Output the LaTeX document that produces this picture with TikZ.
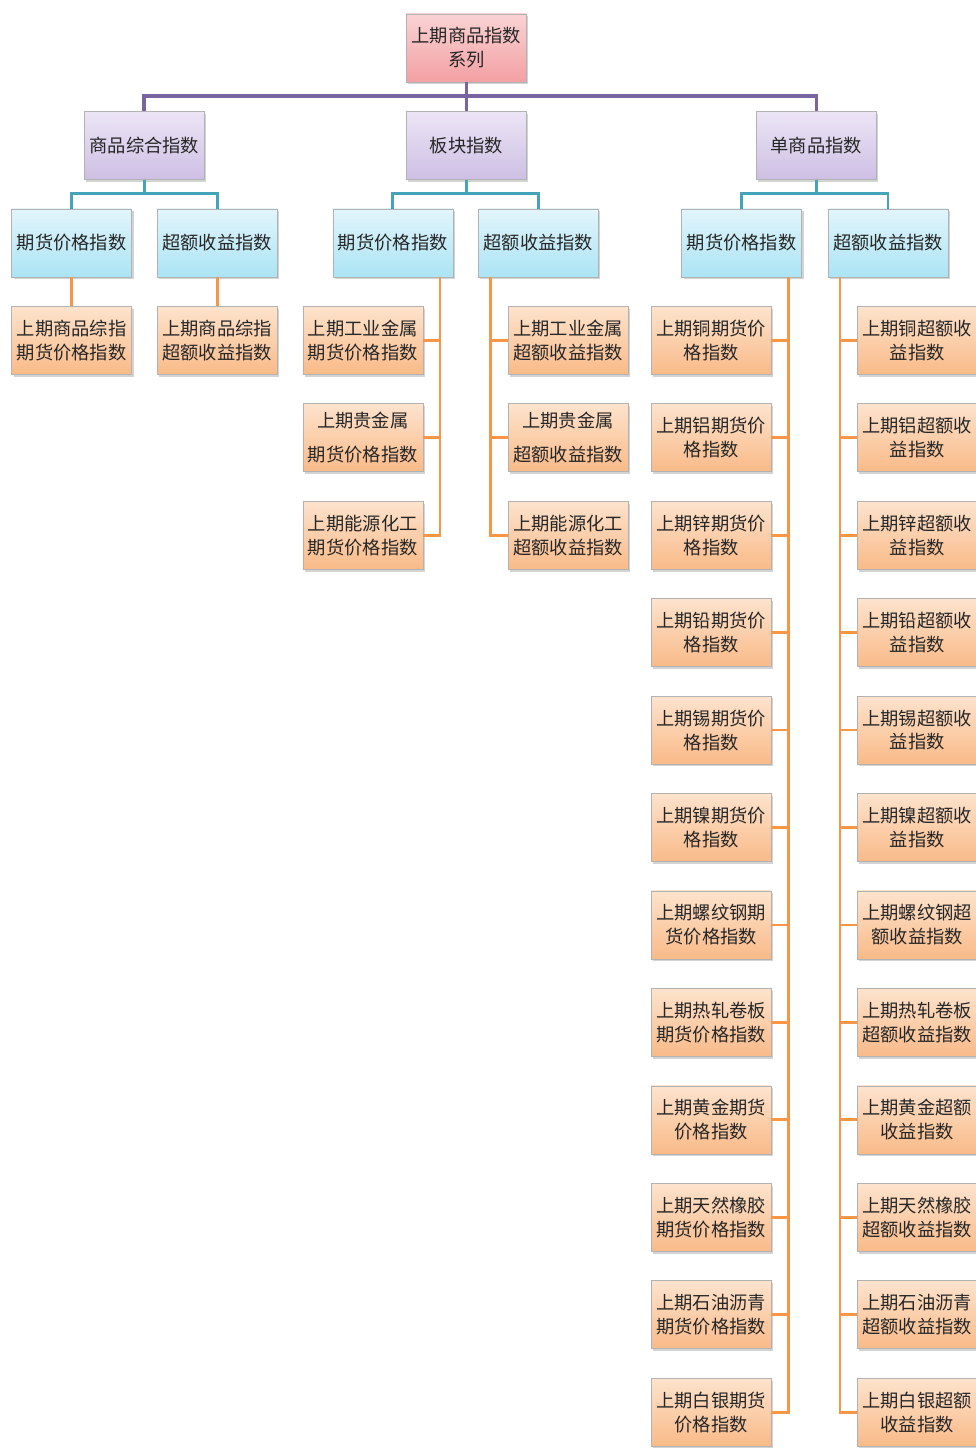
\documentclass[tikz,border=0pt]{standalone}
\usepackage{fontspec}
\setmainfont{Noto Sans CJK SC}
\usetikzlibrary{shadows}
\definecolor{rootTop}{HTML}{FAD3D4}
\definecolor{rootBot}{HTML}{F2A0A3}
\definecolor{grpTop}{HTML}{ECE5F5}
\definecolor{grpBot}{HTML}{CDBFE4}
\definecolor{typTop}{HTML}{E2F5FB}
\definecolor{typBot}{HTML}{ABE4F5}
\definecolor{leafTop}{HTML}{FDE3CD}
\definecolor{leafBot}{HTML}{F9BA88}
\definecolor{lineP}{HTML}{7A64A0}
\definecolor{lineT}{HTML}{45A3BA}
\definecolor{lineO}{HTML}{F79646}
\tikzstyle{cell} = [rectangle, minimum width=3cm, minimum height=1.7cm, inner sep=2pt, text centered, align=center, draw=gray!60, font=\fontsize{13}{17}\selectfont, text=black!85, drop shadow={shadow xshift=0.05cm, shadow yshift=-0.06cm, opacity=0.35}]
\tikzstyle{rootbox} = [cell, top color=rootTop, bottom color=rootBot]
\tikzstyle{groupbox} = [cell, top color=grpTop, bottom color=grpBot]
\tikzstyle{typebox} = [cell, top color=typTop, bottom color=typBot]
\tikzstyle{leafbox} = [cell, top color=leafTop, bottom color=leafBot]
\tikzstyle{purpleline} = [line width=2.7pt, draw=lineP]
\tikzstyle{tealline} = [line width=2pt, draw=lineT]
\tikzstyle{orangeline} = [line width=2pt, draw=lineO]
\begin{document}
\begin{tikzpicture} [node distance=2.436cm]
\useasboundingbox (-11.66,1.2) rectangle (12.74,-35.0);
\node (root) [rootbox] {上期商品指数\\系列};

\node (comp) [groupbox, below of=root, xshift=-8.05cm] {商品综合指数};
\node (sect) [groupbox, below of=root] {板块指数};
\node (single) [groupbox, below of=root, xshift=8.75cm] {单商品指数};

\node (compf) [typebox, below of=comp, xshift=-1.82cm] {期货价格指数};
\node (compe) [typebox, below of=comp, xshift=1.82cm] {超额收益指数};
\node (sectf) [typebox, below of=sect, xshift=-1.84cm] {期货价格指数};
\node (secte) [typebox, below of=sect, xshift=1.8cm] {超额收益指数};
\node (singf) [typebox, below of=single, xshift=-1.87cm] {期货价格指数};
\node (singe) [typebox, below of=single, xshift=1.79cm] {超额收益指数};

\node (compf1) [leafbox, below of=compf] {上期商品综指\\期货价格指数};
\node (compe1) [leafbox, below of=compe] {上期商品综指\\超额收益指数};

\node (sf1) [leafbox, below of=sectf, xshift=-0.75cm] {上期工业金属\\期货价格指数};
\node (sf2) [leafbox, below of=sf1] {上期贵金属\\[0.25cm]期货价格指数};
\node (sf3) [leafbox, below of=sf2] {上期能源化工\\期货价格指数};
\node (se1) [leafbox, below of=secte, xshift=0.74cm] {上期工业金属\\超额收益指数};
\node (se2) [leafbox, below of=se1] {上期贵金属\\[0.25cm]超额收益指数};
\node (se3) [leafbox, below of=se2] {上期能源化工\\超额收益指数};

\node (gf1) [leafbox, below of=singf, xshift=-0.76cm] {上期铜期货价\\格指数};
\node (gf2) [leafbox, below of=gf1] {上期铝期货价\\格指数};
\node (gf3) [leafbox, below of=gf2] {上期锌期货价\\格指数};
\node (gf4) [leafbox, below of=gf3] {上期铅期货价\\格指数};
\node (gf5) [leafbox, below of=gf4] {上期锡期货价\\格指数};
\node (gf6) [leafbox, below of=gf5] {上期镍期货价\\格指数};
\node (gf7) [leafbox, below of=gf6] {上期螺纹钢期\\货价格指数};
\node (gf8) [leafbox, below of=gf7] {上期热轧卷板\\期货价格指数};
\node (gf9) [leafbox, below of=gf8] {上期黄金期货\\价格指数};
\node (gf10) [leafbox, below of=gf9] {上期天然橡胶\\期货价格指数};
\node (gf11) [leafbox, below of=gf10] {上期石油沥青\\期货价格指数};
\node (gf12) [leafbox, below of=gf11] {上期白银期货\\价格指数};

\node (ge1) [leafbox, below of=singe, xshift=0.73cm] {上期铜超额收\\益指数};
\node (ge2) [leafbox, below of=ge1] {上期铝超额收\\益指数};
\node (ge3) [leafbox, below of=ge2] {上期锌超额收\\益指数};
\node (ge4) [leafbox, below of=ge3] {上期铅超额收\\益指数};
\node (ge5) [leafbox, below of=ge4] {上期锡超额收\\益指数};
\node (ge6) [leafbox, below of=ge5] {上期镍超额收\\益指数};
\node (ge7) [leafbox, below of=ge6] {上期螺纹钢超\\额收益指数};
\node (ge8) [leafbox, below of=ge7] {上期热轧卷板\\超额收益指数};
\node (ge9) [leafbox, below of=ge8] {上期黄金超额\\收益指数};
\node (ge10) [leafbox, below of=ge9] {上期天然橡胶\\超额收益指数};
\node (ge11) [leafbox, below of=ge10] {上期石油沥青\\超额收益指数};
\node (ge12) [leafbox, below of=ge11] {上期白银超额\\收益指数};

\draw[purpleline] (root.south) -- ++(0,-0.35) -| (comp.north);
\draw[purpleline] (root.south) -- (sect.north);
\draw[purpleline] (root.south) -- ++(0,-0.35) -| (single.north);

\draw[tealline] (comp.south) -- ++(0,-0.35) -| (compf.north);
\draw[tealline] (comp.south) -- ++(0,-0.35) -| (compe.north);
\draw[tealline] (sect.south) -- ++(0,-0.35) -| (sectf.north);
\draw[tealline] (sect.south) -- ++(0,-0.35) -| (secte.north);
\draw[tealline] (single.south) -- ++(0,-0.35) -| (singf.north);
\draw[tealline] (single.south) -- ++(0,-0.35) -| (singe.north);

\draw[orangeline] (compf) -- (compf1);
\draw[orangeline] (compe) -- (compe1);

\draw[orangeline] ([xshift=1.18cm]sectf.south) |- (sf1.east);
\draw[orangeline] ([xshift=1.18cm]sectf.south) |- (sf2.east);
\draw[orangeline] ([xshift=1.18cm]sectf.south) |- (sf3.east);
\draw[orangeline] ([xshift=-1.2cm]secte.south) |- (se1.west);
\draw[orangeline] ([xshift=-1.2cm]secte.south) |- (se2.west);
\draw[orangeline] ([xshift=-1.2cm]secte.south) |- (se3.west);

\draw[orangeline] ([xshift=1.17cm]singf.south) |- (gf1.east);
\draw[orangeline] ([xshift=1.17cm]singf.south) |- (gf2.east);
\draw[orangeline] ([xshift=1.17cm]singf.south) |- (gf3.east);
\draw[orangeline] ([xshift=1.17cm]singf.south) |- (gf4.east);
\draw[orangeline] ([xshift=1.17cm]singf.south) |- (gf5.east);
\draw[orangeline] ([xshift=1.17cm]singf.south) |- (gf6.east);
\draw[orangeline] ([xshift=1.17cm]singf.south) |- (gf7.east);
\draw[orangeline] ([xshift=1.17cm]singf.south) |- (gf8.east);
\draw[orangeline] ([xshift=1.17cm]singf.south) |- (gf9.east);
\draw[orangeline] ([xshift=1.17cm]singf.south) |- (gf10.east);
\draw[orangeline] ([xshift=1.17cm]singf.south) |- (gf11.east);
\draw[orangeline] ([xshift=1.17cm]singf.south) |- (gf12.east);

\draw[orangeline] ([xshift=-1.2cm]singe.south) |- (ge1.west);
\draw[orangeline] ([xshift=-1.2cm]singe.south) |- (ge2.west);
\draw[orangeline] ([xshift=-1.2cm]singe.south) |- (ge3.west);
\draw[orangeline] ([xshift=-1.2cm]singe.south) |- (ge4.west);
\draw[orangeline] ([xshift=-1.2cm]singe.south) |- (ge5.west);
\draw[orangeline] ([xshift=-1.2cm]singe.south) |- (ge6.west);
\draw[orangeline] ([xshift=-1.2cm]singe.south) |- (ge7.west);
\draw[orangeline] ([xshift=-1.2cm]singe.south) |- (ge8.west);
\draw[orangeline] ([xshift=-1.2cm]singe.south) |- (ge9.west);
\draw[orangeline] ([xshift=-1.2cm]singe.south) |- (ge10.west);
\draw[orangeline] ([xshift=-1.2cm]singe.south) |- (ge11.west);
\draw[orangeline] ([xshift=-1.2cm]singe.south) |- (ge12.west);
\end{tikzpicture}
\end{document}
